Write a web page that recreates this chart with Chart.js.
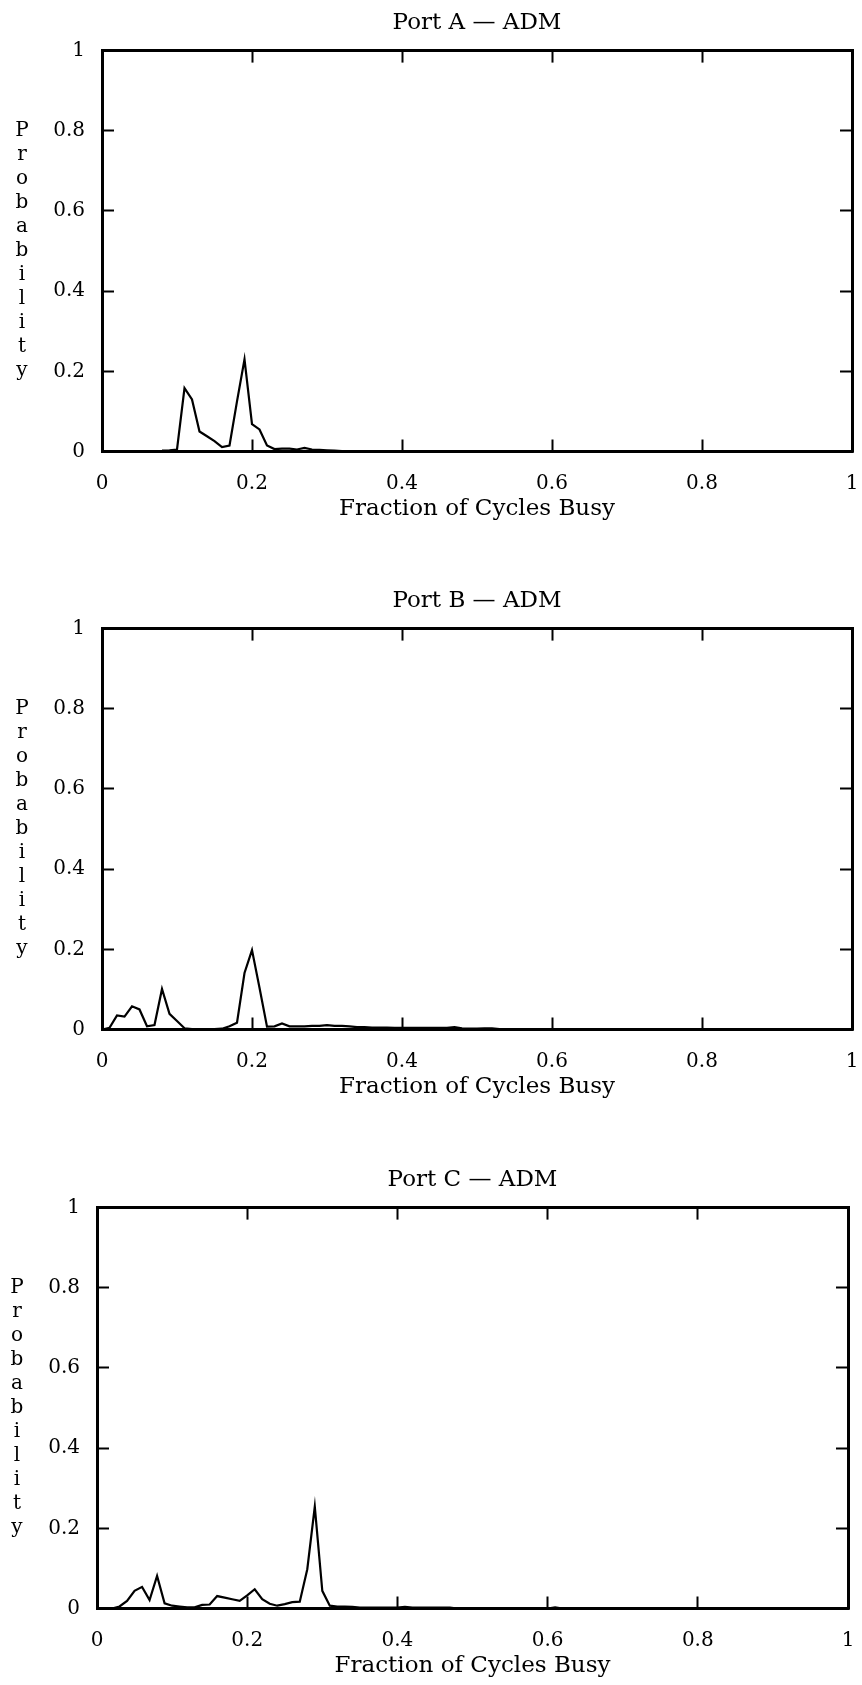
<!DOCTYPE html>
<html><head><meta charset="utf-8">
<script src="https://cdn.jsdelivr.net/npm/chart.js@4/dist/chart.umd.min.js"></script>
<style>
html,body{margin:0;padding:0;background:#fff;}
body{width:862px;height:1685px;position:relative;overflow:hidden;}
canvas{position:absolute;left:0;}
</style></head><body>
<canvas id="cA" width="862" height="528" style="top:0px"></canvas>
<canvas id="cB" width="862" height="528" style="top:578px"></canvas>
<canvas id="cC" width="862" height="528" style="top:1157px"></canvas>
<script>
const tickValues = [0, 0.2, 0.4, 0.6, 0.8, 1];
const tickLabels = ['0', '0.2', '0.4', '0.6', '0.8', '1'];
const chartTitles = ['Port A \u2014 ADM', 'Port B \u2014 ADM', 'Port C \u2014 ADM'];
const xAxisTitle = 'Fraction of Cycles Busy';
const yAxisTitle = 'Probability';

const portA_x = [0.08,0.09,0.10,0.11,0.12,0.13,0.14,0.15,0.16,0.17,0.18,0.19,0.20,0.21,0.22,0.23,0.24,0.25,0.26,0.27,0.28,0.29,0.30,0.31,0.32];
const portA_y = [0.002,0.003,0.005,0.158,0.130,0.050,0.038,0.026,0.011,0.015,0.125,0.230,0.068,0.055,0.015,0.006,0.007,0.007,0.005,0.009,0.005,0.004,0.003,0.002,0.001];

const portB_x = [0.00,0.01,0.02,0.03,0.04,0.05,0.06,0.07,0.08,0.09,0.10,0.11,0.12,0.13,0.14,0.15,0.16,0.17,0.18,0.19,0.20,0.21,0.22,0.23,0.24,0.25,0.26,0.27,0.28,0.29,0.30,0.31,0.32,0.33,0.34,0.35,0.36,0.37,0.38,0.39,0.40,0.41,0.42,0.43,0.44,0.45,0.46,0.47,0.48,0.49,0.50,0.51,0.52,0.53];
const portB_y = [0.000,0.004,0.035,0.032,0.058,0.050,0.008,0.011,0.101,0.039,0.021,0.003,0.001,0.001,0.001,0.001,0.002,0.008,0.017,0.141,0.198,0.104,0.007,0.008,0.015,0.008,0.008,0.008,0.009,0.009,0.011,0.009,0.009,0.008,0.006,0.006,0.005,0.005,0.005,0.004,0.004,0.004,0.004,0.004,0.004,0.004,0.004,0.006,0.003,0.002,0.002,0.003,0.003,0.001];

const portC_x = [0.02,0.03,0.04,0.05,0.06,0.07,0.08,0.09,0.10,0.11,0.12,0.13,0.14,0.15,0.16,0.17,0.18,0.19,0.20,0.21,0.22,0.23,0.24,0.25,0.26,0.27,0.28,0.29,0.30,0.31,0.32,0.33,0.34,0.35,0.36,0.37,0.38,0.39,0.40,0.41,0.42,0.43,0.44,0.45,0.46,0.47,0.48,0.50,0.55,0.60,0.61,0.62];
const portC_y = [0.000,0.005,0.019,0.044,0.054,0.021,0.081,0.013,0.007,0.005,0.003,0.003,0.009,0.010,0.031,0.027,0.023,0.019,0.033,0.048,0.023,0.012,0.007,0.011,0.016,0.017,0.098,0.254,0.044,0.007,0.005,0.005,0.004,0.002,0.002,0.002,0.002,0.002,0.002,0.004,0.002,0.002,0.002,0.002,0.002,0.002,0.000,0.000,0.000,0.000,0.003,0.000];

Chart.defaults.font.family = "'DejaVu Serif', serif";
Chart.defaults.color = '#000';

const stackedYTitle = {
  id: 'stackedYTitle',
  afterDraw(chart) {
    const ctx = chart.ctx, a = chart.chartArea;
    const letters = yAxisTitle.split('');
    const step = 24;
    const mid = (a.top + a.bottom) / 2;
    const x = a.left - 80;
    ctx.save();
    ctx.fillStyle = '#000';
    ctx.font = "20px 'DejaVu Serif', serif";
    ctx.textAlign = 'center';
    ctx.textBaseline = 'middle';
    letters.forEach((ch, i) => {
      ctx.fillText(ch, x, mid + (i - (letters.length - 1) / 2) * step);
    });
    ctx.restore();
  }
};

function setTicks(s) { s.ticks = tickValues.map(v => ({ value: v })); }
function fmt(v) { const i = tickValues.findIndex(t => Math.abs(t - v) < 1e-9); return i >= 0 ? tickLabels[i] : ''; }

function makeChart(id, title, xs, ys, plotLeft, padRight) {
  const grid = { display: true, drawOnChartArea: false, drawTicks: true, tickLength: -12, tickWidth: 2, tickColor: '#000' };
  const border = { display: true, width: 3, color: '#000' };
  return new Chart(document.getElementById(id), {
    type: 'line',
    data: {
      datasets: [{
        data: xs.map((x, i) => ({ x: x, y: ys[i] })),
        borderColor: '#000', borderWidth: 2.2, pointRadius: 0, tension: 0, fill: false
      }]
    },
    options: {
      responsive: false, animation: false, devicePixelRatio: 1,
      layout: { padding: { left: 0, right: padRight, top: 0, bottom: 0 } },
      plugins: {
        legend: { display: false }, tooltip: { enabled: false },
        title: { display: true, text: title, fullSize: false, color: '#000',
                 font: { size: 23, weight: 'normal', lineHeight: 1.2 }, padding: { top: 9, bottom: 14 } }
      },
      scales: {
        x: { type: 'linear', position: 'bottom', min: 0, max: 1,
             afterBuildTicks: setTicks, afterFit: s => { s.height = 528 - 451.5; },
             ticks: { callback: fmt, font: { size: 20, lineHeight: '89px' }, padding: 0, maxRotation: 0, color: '#000' },
             grid: grid, border: border,
             title: { display: true, text: xAxisTitle, font: { size: 23 }, color: '#000', padding: { top: 0, bottom: 5 } } },
        x2: { type: 'linear', position: 'top', min: 0, max: 1,
              afterBuildTicks: setTicks, afterFit: s => { s.height = 0; },
              ticks: { display: false }, grid: grid, border: border },
        y: { type: 'linear', position: 'left', min: 0, max: 1,
             afterBuildTicks: setTicks, afterFit: s => { s.width = plotLeft; },
             ticks: { callback: fmt, font: { size: 20 }, padding: 29, color: '#000' },
             grid: grid, border: border },
        y2: { type: 'linear', position: 'right', min: 0, max: 1,
              afterBuildTicks: setTicks, afterFit: s => { s.width = 0; },
              ticks: { display: false }, grid: grid, border: border }
      }
    },
    plugins: [stackedYTitle]
  });
}

makeChart('cA', chartTitles[0], portA_x, portA_y, 102, 10);
makeChart('cB', chartTitles[1], portB_x, portB_y, 102, 10);
makeChart('cC', chartTitles[2], portC_x, portC_y, 97, 14);
</script>
</body></html>
